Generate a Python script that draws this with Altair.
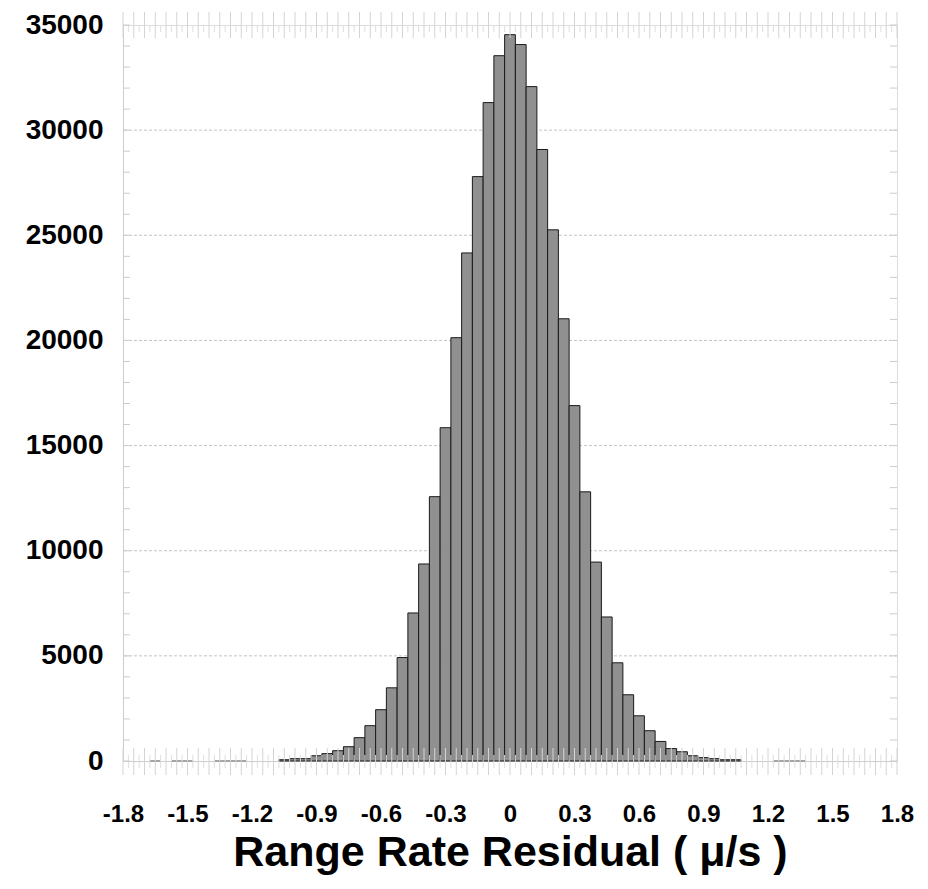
import altair as alt
import pandas as pd
import numpy as np

# ---- data ----
bin_centers = [-1.65, -1.55, -1.5, -1.35, -1.3, -1.25,
               -1.05, -1.0, -0.95, -0.9, -0.85, -0.8, -0.75, -0.7, -0.65, -0.6,
               -0.55, -0.5, -0.45, -0.4, -0.35, -0.3, -0.25, -0.2, -0.15, -0.1,
               -0.05, 0.0, 0.05, 0.1, 0.15, 0.2, 0.25, 0.3, 0.35, 0.4, 0.45,
               0.5, 0.55, 0.6, 0.65, 0.7, 0.75, 0.8, 0.85, 0.9, 0.95, 1.0, 1.05,
               1.25, 1.3, 1.35]
counts = [3, 3, 3, 3, 3, 3,
          60, 110, 110, 250, 350, 490, 680, 1110, 1680, 2440,
          3480, 4920, 7040, 9370, 12570, 15850, 20130, 24160, 27790, 31310,
          33540, 34540, 34070, 32070, 29080, 25260, 21030, 16900, 12800, 9460, 6850,
          4670, 3150, 2150, 1440, 930, 590, 440, 250, 160, 110, 60, 60,
          3, 3, 3]
bin_width = 0.05

x_label_values = [-1.8, -1.5, -1.2, -0.9, -0.6, -0.3, 0, 0.3, 0.6, 0.9, 1.2, 1.5, 1.8]
y_label_values = [0, 5000, 10000, 15000, 20000, 25000, 30000, 35000]
grid_values = [5000, 10000, 15000, 20000, 25000, 30000]
y_minor_values = list(range(0, 35001, 1000))
x_major_ticks = [round(v, 3) for v in np.arange(-1.8, 1.8001, 0.05)]
x_minor_ticks = [round(v, 3) for v in np.arange(-1.775, 1.8, 0.05)]

# ---- layout ----
W, H = 774, 736
FONT = "Liberation Sans"
TITLE = "Range Rate Residual ( \u03bc/s )"

df = pd.DataFrame({"center": bin_centers, "count": counts})
df["start"] = df["center"] - bin_width / 2
df["end"] = df["center"] + bin_width / 2

xscale = alt.Scale(domain=[-1.8, 1.8], nice=False, zero=False)
yscale = alt.Scale(domain=[0, 35000], nice=False)

label_expr = "datum.value == 0 ? '0' : replace(format(datum.value, '.1f'), '\u2212', '-')"

x_axis = alt.Axis(
    values=x_label_values, labelExpr=label_expr, ticks=False, grid=False,
    domainColor="#cccccc", labelFont=FONT, labelFontSize=24, labelFontWeight="bold",
    labelColor="#000000", labelPadding=41, title=TITLE,
    titleFont=FONT, titleFontSize=43, titleFontWeight="bold", titleColor="#000000",
    titlePadding=5, labelFlush=False, labelOverlap=False,
)
y_axis = alt.Axis(
    values=y_label_values, format="d", ticks=False, grid=False,
    domainColor="#cccccc", labelFont=FONT, labelFontSize=28, labelFontWeight="bold",
    labelColor="#000000", labelPadding=20, title=None, labelFlush=False,
    labelOverlap=False,
)


def X(field):
    return alt.X(field, scale=xscale, axis=x_axis, title=TITLE)


def Y(field):
    return alt.Y(field, scale=yscale, axis=y_axis, title=None)


grid = alt.Chart(pd.DataFrame({"v": grid_values})).mark_rule(
    color="#c4c4c4", strokeDash=[3, 2], strokeWidth=1
).encode(y=Y("v:Q"))

bars = alt.Chart(df).mark_bar(fill="#909090", strokeWidth=1).encode(
    x=X("start:Q"),
    x2="end:Q",
    y=Y("count:Q"),
    y2=alt.datum(0),
    stroke=alt.condition(alt.datum.count < 20, alt.value("#909090"), alt.value("#1a1a1a")),
)

tmaj = pd.DataFrame({"t": x_major_ticks})
tmin = pd.DataFrame({"t": x_minor_ticks})
ymin = pd.DataFrame({"v": y_minor_values})

top_major = alt.Chart(tmaj).mark_rule(color="#d4d4d4").encode(
    x=X("t:Q"), y=alt.value(-13), y2=alt.value(13))
top_minor = alt.Chart(tmin).mark_rule(color="#dedede").encode(
    x=X("t:Q"), y=alt.value(0), y2=alt.value(7))
bot_major = alt.Chart(tmaj).mark_rule(color="#d4d4d4").encode(
    x=X("t:Q"), y=alt.value(H - 13), y2=alt.value(H + 14))
bot_minor = alt.Chart(tmin).mark_rule(color="#dedede").encode(
    x=X("t:Q"), y=alt.value(H - 6), y2=alt.value(H + 7))
left_minor = alt.Chart(ymin).mark_rule(color="#cccccc").encode(
    y=Y("v:Q"), x=alt.value(0), x2=alt.value(7))
right_minor = alt.Chart(ymin).mark_rule(color="#cccccc").encode(
    y=Y("v:Q"), x=alt.value(W - 7), x2=alt.value(W))

chart = alt.layer(
    grid, bars, top_major, top_minor, bot_major, bot_minor, left_minor, right_minor
).properties(
    width=W, height=H,
    autosize=alt.AutoSizeParams(type="none"),
    padding={"left": 115, "top": 17, "right": 23, "bottom": 128},
).configure_view(stroke="#cccccc", strokeWidth=1).configure(background="white")

chart.save("out.html", embed_options={"renderer": "svg", "actions": False})
